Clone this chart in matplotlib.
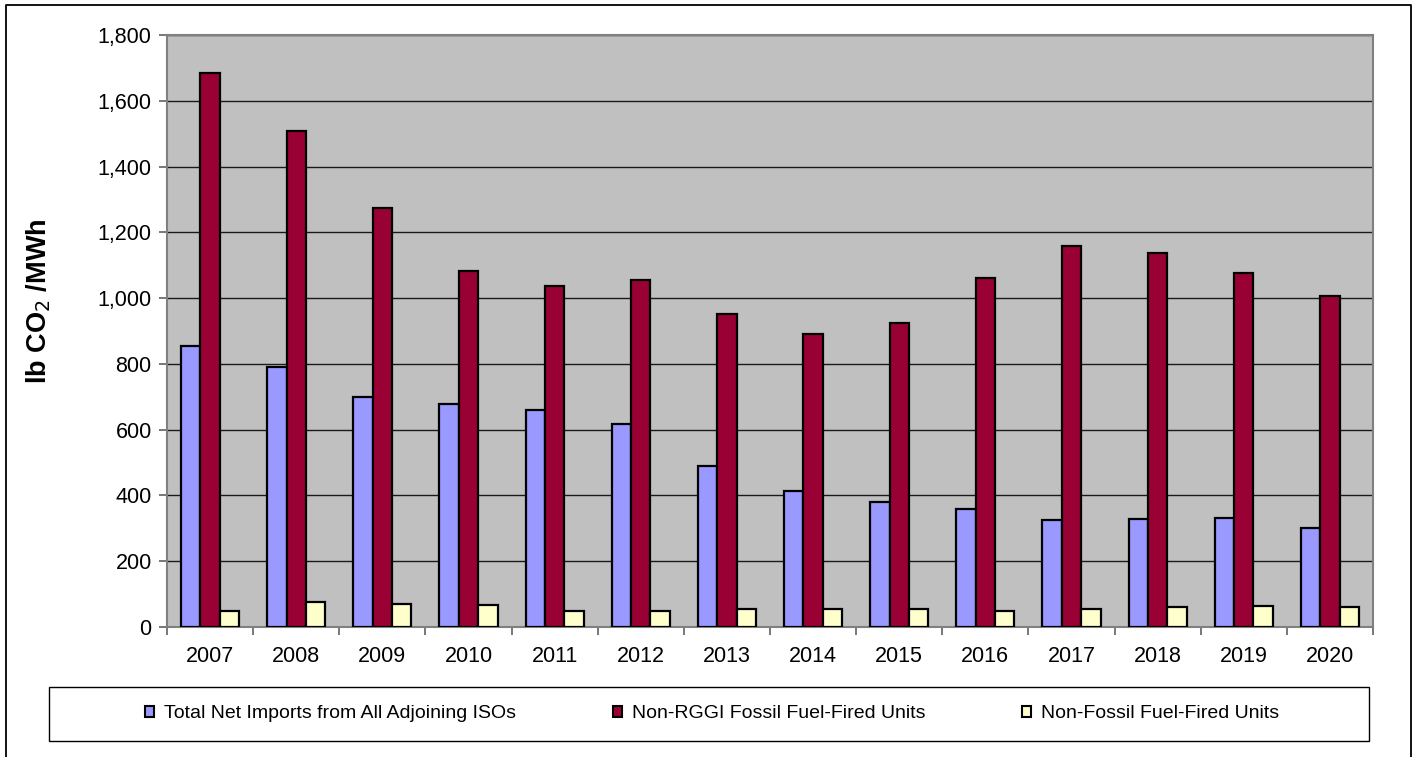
import numpy as np
import matplotlib
matplotlib.use("Agg")
import matplotlib.pyplot as plt
from matplotlib.patches import Rectangle
from matplotlib.lines import Line2D
from matplotlib.ticker import FuncFormatter

YEARS = ["2007", "2008", "2009", "2010", "2011", "2012", "2013",
         "2014", "2015", "2016", "2017", "2018", "2019", "2020"]
NET_IMPORTS = [854, 790, 698, 677, 660, 617, 490, 412, 380, 359, 325, 328, 331, 300]
NON_RGGI = [1684, 1508, 1274, 1082, 1037, 1055, 952, 890, 924, 1061, 1158, 1137, 1076, 1006]
NON_FOSSIL = [49, 77, 71, 67, 49, 49, 55, 55, 55, 50, 55, 62, 64, 62]
LABELS = ["Total Net Imports from All Adjoining ISOs",
          "Non-RGGI Fossil Fuel-Fired Units",
          "Non-Fossil Fuel-Fired Units"]
COLORS = ["#9999FF", "#990033", "#FFFFCC"]

plt.rcParams['font.family'] = ['Liberation Sans', 'DejaVu Sans']

W, H = 1422, 757


def main():
    fig = plt.figure(figsize=(W / 100, H / 100), dpi=100)
    ax = fig.add_axes([167 / W, 1 - 627 / H, (1373 - 167) / W, (627 - 35) / H])
    ax.set_facecolor("#C0C0C0")

    x = np.arange(len(YEARS))
    bw = 0.225
    for i, (vals, col) in enumerate(zip([NET_IMPORTS, NON_RGGI, NON_FOSSIL], COLORS)):
        ax.bar(x + (i - 1) * bw, vals, bw, color=col, edgecolor="black",
               linewidth=1.6, zorder=3)

    ax.set_xlim(-0.5, len(YEARS) - 0.5)
    ax.set_ylim(0, 1800)
    ax.set_yticks(np.arange(0, 1801, 200))
    ax.yaxis.set_major_formatter(FuncFormatter(lambda v, p: f"{int(v):,}"))
    ax.grid(axis="y", color="#1a1a1a", linewidth=1.0, zorder=1)

    # year labels centred, tick marks between categories
    ax.set_xticks(np.arange(-0.5, len(YEARS), 1))
    ax.set_xticklabels([])
    ax.set_xticks(x, minor=True)
    ax.set_xticklabels(YEARS, minor=True, fontsize=15.5)
    ax.tick_params(axis="x", which="minor", length=0, pad=14)
    ax.tick_params(axis="x", which="major", length=6, width=1.2, color="#606060")
    ax.tick_params(axis="y", length=6, width=1.2, color="#606060",
                   labelsize=15.5, pad=5)
    for s in ax.spines.values():
        s.set_color("#808080")
        s.set_linewidth(1.5)

    ax.set_ylabel("lb CO$_2$ /MWh", fontsize=19.5, fontweight="bold")
    ax.yaxis.set_label_coords(-(167 - 53) / (1373 - 167), 0.55)

    # legend box
    fig.patches.append(Rectangle((49 / W, 1 - 741 / H), (1369 - 49) / W, (741 - 687) / H,
                                 transform=fig.transFigure, facecolor="white",
                                 edgecolor="black", linewidth=1.0))
    handles = [Rectangle((0, 0), 1, 1, facecolor=c, edgecolor="black", linewidth=1.5)
               for c in COLORS]
    fig.legend(handles, LABELS, loc="center", ncol=3, frameon=False,
               bbox_to_anchor=(712 / W, 1 - 714 / H), fontsize=14,
               handlelength=0.47, handleheight=0.47, handletextpad=0.5,
               columnspacing=5.0)

    # outer border
    fig.add_artist(Line2D([6 / W, 6 / W, 1411 / W, 1411 / W], [0, 1 - 5 / H, 1 - 5 / H, 0],
                          transform=fig.transFigure, color="black", linewidth=1.3))

    fig.savefig("out.png", dpi=100)


if __name__ == "__main__":
    main()
